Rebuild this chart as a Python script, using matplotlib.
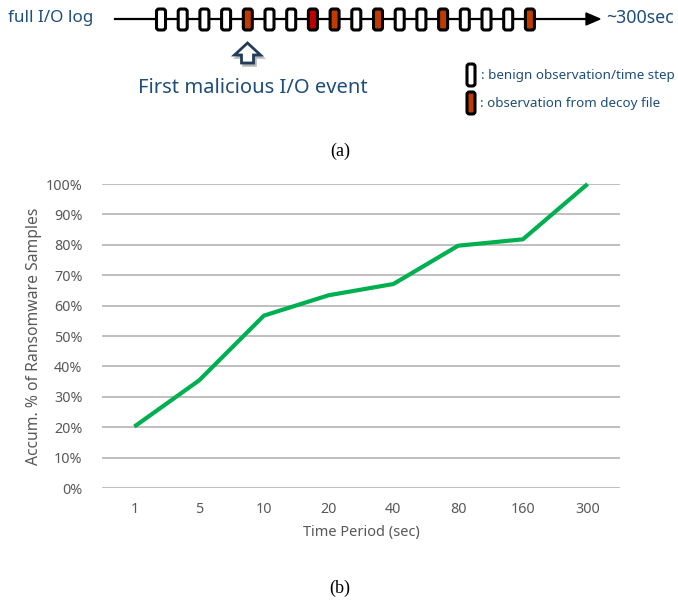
import matplotlib
matplotlib.use("Agg")
import matplotlib.pyplot as plt
import matplotlib.patches as patches
from matplotlib.ticker import FuncFormatter

# data for panel (b)
periods = ["1", "5", "10", "20", "40", "80", "160", "300"]
accum_pct = [20.2, 35.4, 56.7, 63.4, 67.1, 79.7, 81.8, 100.0]

# panel (a): kind of each observation along the log (w = benign, o = decoy, r = first malicious)
steps = ["w", "w", "w", "w", "o", "w", "w", "r", "o",
         "w", "o", "w", "w", "o", "w", "w", "w", "o"]
box_colors = {"w": "white", "o": "#C03B00", "r": "#C00000"}

navy = "#1F4E79"
gray = "#595959"
font = ["Noto Sans", "DejaVu Sans"]

fig = plt.figure(figsize=(6.78, 6.04), dpi=100)

# overlay in pixel coords for the schematic
ov = fig.add_axes([0, 0, 1, 1])
ov.set_xlim(0, 678)
ov.set_ylim(604, 0)
ov.axis("off")

ov.text(8, 18, "full I/O log", color=navy, fontsize=12.3, family=font, va="center", ha="left")
ov.text(606, 18, "~300sec", color=navy, fontsize=12.8, family=font, va="center", ha="left")

# main log line with arrow head
ov.plot([115, 590], [19, 19], color="black", lw=1.6, zorder=1)
ov.add_patch(patches.Polygon([[586, 13], [600, 19], [586, 25]], closed=True,
                             color="black", zorder=1))

x0, dx = 161, 21.7
for i, kind in enumerate(steps):
    cx = x0 + i * dx
    box = patches.FancyBboxPatch((cx - 4.5, 9), 9, 21,
                                 boxstyle="round,pad=0,rounding_size=2.5",
                                 fc=box_colors[kind], ec="black", lw=2.2, zorder=3)
    ov.add_patch(box)

# hollow up arrow pointing at the first malicious event
ax_c = 247.5
arrow_pts = [[ax_c, 43], [ax_c + 13, 55], [ax_c + 6, 55], [ax_c + 6, 63],
             [ax_c - 6, 63], [ax_c - 6, 55], [ax_c - 13, 55]]
shadow = [[p[0] + 2, p[1] + 2.5] for p in arrow_pts]
ov.add_patch(patches.Polygon(shadow, closed=True, fc="#9A9A9A", ec="#9A9A9A",
                             lw=2, alpha=0.6, zorder=2))
ov.add_patch(patches.Polygon(arrow_pts, closed=True, fc="white", ec="#243B5A",
                             lw=2, joinstyle="miter", zorder=3))
ov.text(253, 88, "First malicious I/O event", color=navy, fontsize=14.5, family=font,
        va="center", ha="center")

# legend for the schematic
ov.add_patch(patches.FancyBboxPatch((467, 64), 8, 22, boxstyle="round,pad=0,rounding_size=2.5",
                                    fc="white", ec="black", lw=2.2))
ov.add_patch(patches.FancyBboxPatch((467, 92), 8, 22, boxstyle="round,pad=0,rounding_size=2.5",
                                    fc=box_colors["o"], ec="black", lw=2.2))
ov.text(481, 75, ": benign observation/time step", color=navy, fontsize=9.7, family=font,
        va="center", ha="left")
ov.text(480, 103, ": observation from decoy file", color=navy, fontsize=9.7, family=font,
        va="center", ha="left")

ov.text(340, 151, "(a)", fontsize=13, family="Liberation Serif", va="center", ha="center")
ov.text(340, 588, "(b)", fontsize=13, family="Liberation Serif", va="center", ha="center")

# panel (b) line chart
ax = fig.add_axes([102 / 678, 1 - 488 / 604, 518 / 678, 304 / 604])
xs = list(range(len(periods)))
ax.plot(xs, accum_pct, color="#00B050", lw=3, clip_on=False, zorder=3,
        solid_capstyle="butt")
ax.set_xlim(-0.5, len(periods) - 0.5)
ax.set_ylim(0, 100)
ax.set_yticks(range(0, 101, 10))
ax.yaxis.set_major_formatter(FuncFormatter(lambda v, p: f"{int(v)}%"))
ax.set_xticks(xs)
ax.set_xticklabels(periods)
ax.grid(axis="y", color="#BFBFBF", lw=1.4)
ax.set_axisbelow(True)
for s in ax.spines.values():
    s.set_visible(False)
ax.tick_params(length=0, colors=gray, labelsize=10.3)
ax.tick_params(axis="y", pad=14)
ax.tick_params(axis="x", pad=10)
for lab in ax.get_xticklabels() + ax.get_yticklabels():
    lab.set_family(font)
ax.set_xlabel("Time Period (sec)", color=gray, fontsize=10.5, family=font, labelpad=6)
ax.set_ylabel("Accum. % of Ransomware Samples", color=gray, fontsize=11.3, family=font,
              labelpad=3)

fig.savefig("out.png", dpi=100)
